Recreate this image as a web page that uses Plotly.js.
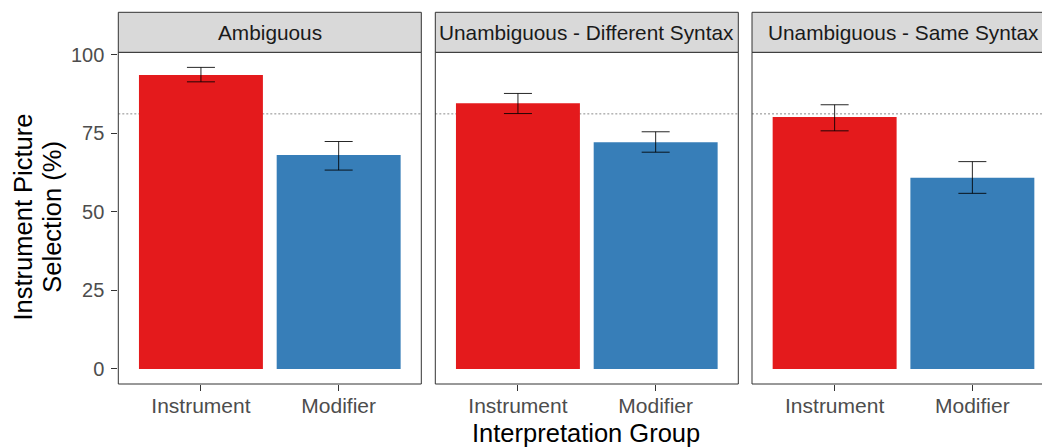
<!DOCTYPE html>
<html>
<head>
<meta charset="utf-8">
<script src="https://cdn.plot.ly/plotly-3.0.1.min.js"></script>
<style>
  html, body { margin: 0; padding: 0; background: #ffffff; }
  #chart { width: 1042px; height: 448px; }
</style>
</head>
<body>
<div id="chart"></div>
<script>
// ---- data ----
const panels = ['Ambiguous', 'Unambiguous - Different Syntax', 'Unambiguous - Same Syntax'];
const groups = ['Instrument', 'Modifier'];
const instrumentMean  = [93.6, 84.6, 80.2];
const instrumentUpper = [96.0, 87.7, 84.1];
const instrumentLower = [91.4, 81.3, 75.8];
const modifierMean  = [68.1, 72.2, 60.9];
const modifierUpper = [72.4, 75.5, 66.0];
const modifierLower = [63.3, 69.0, 55.9];
const referenceLine = 81.2;
const yTicks = [0, 25, 50, 75, 100];
const yTitleLines = ['Instrument Picture', 'Selection (%)'];
const xTitle = 'Interpretation Group';

// ---- styling ----
const W = 1042, H = 448;
const colors = ['#E41A1C', '#377EB8'];
const font = 'Liberation Sans, Arial, sans-serif';
const border = '#333333';
const px = v => v / W;
const py = v => (H - v) / H;

const panelLeft = [118.3, 435.3, 752];
const panelWidth = 303;
const xDomains = panelLeft.map(l => [px(l), Math.min(1, px(l + panelWidth))]);
const unitPx = panelWidth / 2.2;
const xRanges = xDomains.map(d => [-0.6, -0.6 + (d[1] - d[0]) * W / unitPx]);
const yDomain = [py(384), py(52.3)];
const yRange = [-4.8, 100.8];

const data = [];
const layout = {
  width: W, height: H,
  margin: {l: 0, r: 0, t: 0, b: 0},
  paper_bgcolor: '#ffffff', plot_bgcolor: '#ffffff',
  showlegend: false,
  bargap: 0.1,
  font: {family: font},
  shapes: [], annotations: []
};

panels.forEach((p, i) => {
  const sfx = i === 0 ? '' : String(i + 1);
  const means = [instrumentMean[i], modifierMean[i]];
  const ups = [instrumentUpper[i], modifierUpper[i]];
  const lows = [instrumentLower[i], modifierLower[i]];
  data.push({
    type: 'bar',
    x: groups,
    y: means,
    xaxis: 'x' + sfx, yaxis: 'y' + sfx,
    marker: {color: colors, line: {width: 0}},
    error_y: {
      type: 'data', symmetric: false,
      array: ups.map((u, k) => u - means[k]),
      arrayminus: lows.map((l, k) => means[k] - l),
      color: 'rgba(0,0,0,0.85)', thickness: 1, width: 14
    },
    hoverinfo: 'skip'
  });
  layout['xaxis' + sfx] = {
    domain: xDomains[i], anchor: 'y' + sfx,
    type: 'category', range: xRanges[i],
    showgrid: false, zeroline: false, showline: false,
    ticks: 'outside', ticklen: 6, tickwidth: 1, tickcolor: border,
    tickfont: {family: font, size: 21, color: '#4D4D4D'},
    ticklabelstandoff: -3,
    fixedrange: true
  };
  layout['yaxis' + sfx] = {
    domain: yDomain, anchor: 'x' + sfx,
    range: yRange, tickvals: yTicks,
    showgrid: false, zeroline: false, showline: false,
    ticks: i === 0 ? 'outside' : '', ticklen: 6, tickwidth: 1, tickcolor: border,
    showticklabels: i === 0,
    tickfont: {family: font, size: 20, color: '#4D4D4D'},
    ticklabelstandoff: 3,
    fixedrange: true
  };
  const x0 = px(panelLeft[i]), x1 = px(panelLeft[i] + panelWidth);
  // reference dotted line
  layout.shapes.push({type: 'line', xref: 'x' + sfx + ' domain', yref: 'y' + sfx, x0: 0, x1: 1,
    y0: referenceLine, y1: referenceLine, layer: 'below',
    line: {color: '#8c8c8c', width: 1, dash: '2px,2px'}});
  // panel border
  layout.shapes.push({type: 'rect', xref: 'paper', yref: 'paper', x0: x0, x1: x1,
    y0: yDomain[0], y1: yDomain[1], layer: 'above',
    line: {color: border, width: 1}, fillcolor: 'rgba(0,0,0,0)'});
  // strip
  layout.shapes.push({type: 'rect', xref: 'paper', yref: 'paper', x0: x0, x1: x1,
    y0: yDomain[1], y1: py(12.3), layer: 'above',
    line: {color: border, width: 1}, fillcolor: '#D9D9D9'});
  layout.annotations.push({xref: 'paper', yref: 'paper', x: (x0 + x1) / 2, y: py(32.8),
    xanchor: 'center', yanchor: 'middle', showarrow: false,
    text: p, font: {family: font, size: 20.8, color: '#1A1A1A'}});
});

// axis titles
layout.annotations.push({xref: 'paper', yref: 'paper', x: px(586), y: py(433),
  xanchor: 'center', yanchor: 'middle', showarrow: false,
  text: xTitle, font: {family: font, size: 25.5, color: '#000000'}});
const yTitleX = [22.5, 51.7];
yTitleLines.forEach((t, k) => {
  layout.annotations.push({xref: 'paper', yref: 'paper', x: px(yTitleX[k]), y: py(217),
    xanchor: 'center', yanchor: 'middle', showarrow: false, textangle: -90,
    text: t, font: {family: font, size: 25.5, color: '#000000'}});
});

Plotly.newPlot('chart', data, layout, {displayModeBar: false, staticPlot: true});
</script>
</body>
</html>
